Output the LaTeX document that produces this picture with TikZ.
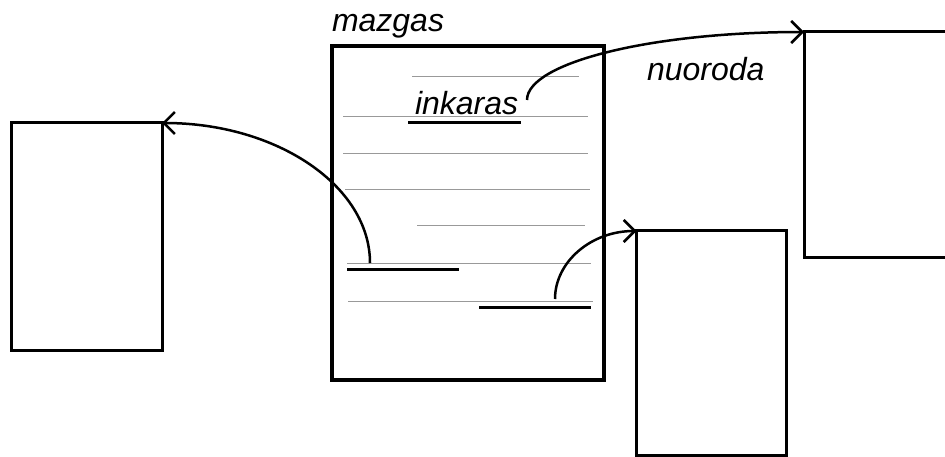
\documentclass[tikz,border=0pt]{standalone}
\usepackage{fontspec}
\setmainfont{Liberation Sans}
\usetikzlibrary{arrows.meta}
\tikzset{
  page/.style={draw, line width=3pt, inner sep=0pt, outer sep=0pt},
  textline/.style={draw=gray!80, line width=1pt},
  anchorline/.style={draw=black, line width=3pt},
  linkarrow/.style={draw, line width=2.5pt, -{Straight Barb[length=11pt,width=22pt,line width=2.5pt]}},
  lbl/.style={inner sep=0pt, outer sep=0pt, anchor=base west, font=\fontsize{32}{36}\selectfont\itshape}
}
\begin{document}
\begin{tikzpicture}[x=1pt,y=-1pt]
\useasboundingbox (0,0) rectangle (945,457);
% boxes
\node[page, minimum width=151pt, minimum height=227pt] (left) at (86.5,236.5) {};
\node[page, line width=3.5pt, minimum width=272pt, minimum height=334pt] (main) at (468,213) {};
\node[page, minimum width=150pt, minimum height=224pt] (low) at (711.5,343) {};
\coordinate (rnw) at (804,32);
\coordinate (rsw) at (804,257);
\draw[line width=3pt] (960,32) -- (rnw) -- (rsw) -- (960,257);
% labels
\node[lbl] (mazgas) at (332,32) {mazgas};
\node[lbl] (nuoroda) at (647,81) {nuoroda};
\node[lbl] (inkaras) at (415,115) {inkaras};
% text lines
\draw[textline] (412,77) -- (579,77);
\draw[textline] (343,117) -- (588,117);
\draw[textline] (343,154) -- (588,154);
\draw[textline] (345,190) -- (590,190);
\draw[textline] (417,226) -- (585,226);
\draw[textline] (347,263) -- (591,263);
\draw[textline] (348,301) -- (593,301);
% anchors
\draw[anchorline] (408,123) -- (521,123);
\draw[anchorline] (347,269) -- (459,269);
\draw[anchorline] (479,307) -- (591,307);
% link starts
\coordinate (s1) at (370,263);
\coordinate (s2) at (527,100);
\coordinate (s3) at (555,299);
% links
\draw[linkarrow] (s1) .. controls (370,186) and (277,123) .. (left.north east);
\draw[linkarrow] (s2) .. controls (527,63) and (650,32) .. (rnw);
\draw[linkarrow] (s3) .. controls (555,262) and (591,231) .. (low.north west);
\end{tikzpicture}
\end{document}
